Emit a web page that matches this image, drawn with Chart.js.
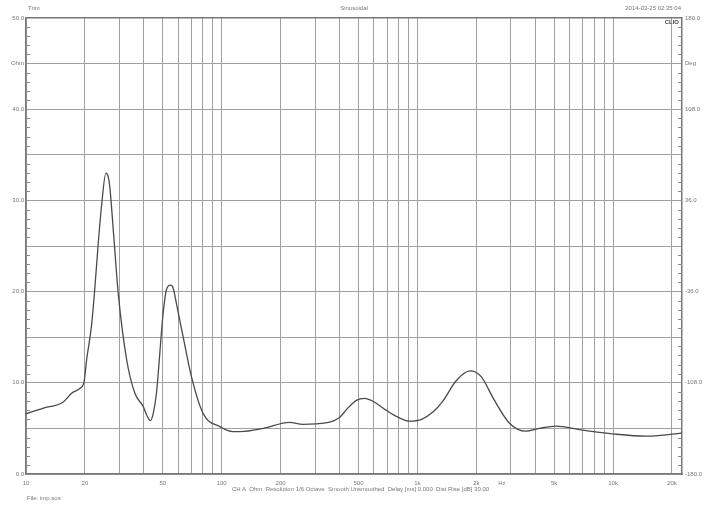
<!DOCTYPE html>
<html>
<head>
<meta charset="utf-8">
<script src="https://cdn.jsdelivr.net/npm/chart.js@4.4.1/dist/chart.umd.min.js"></script>
<style>
  body { margin: 0; background: #fff; }
  #wrap { position: relative; width: 708px; height: 510px; font-family: "Liberation Sans", Arial, sans-serif; color: #777; }
  .lbl { position: absolute; font-size: 6px; white-space: nowrap; line-height: 7px; }
</style>
</head>
<body>
<div id="wrap">
  <canvas id="imp" width="708" height="510"></canvas>
  <div class="lbl" style="left:28px;top:5px;">Trim</div>
  <div class="lbl" style="left:0;width:708px;text-align:center;top:5px;">Sinusoidal</div>
  <div class="lbl" style="right:27px;top:5px;">2014-03-25 02:35:04</div>
  <div class="lbl" style="right:29px;top:19px;font-weight:bold;color:#444;">CLIO</div>
  <div class="lbl" style="left:232px;top:486px;">CH A&nbsp;&nbsp;Ohm&nbsp;&nbsp;Resolution 1/6 Octave&nbsp;&nbsp;Smooth Unsmoothed&nbsp;&nbsp;Delay [ms] 0.000&nbsp;&nbsp;Dist Rise [dB] 30.00</div>
  <div class="lbl" style="left:27px;top:495px;">File: imp.sos</div>
</div>
<script>
// impedance curve (Hz, Ohm)
var freqs = [10, 12.2, 15.5, 17.1, 18.9, 19.8, 20.4, 21.6, 22.5, 23.4, 24.3, 25.6, 26.3, 26.8, 28.1, 29.6,
  32.7, 36, 39.7, 41.3, 43.2, 44.7, 46.4, 50.2, 52.2, 54.7, 56.5, 58.7, 63.5, 70, 80.3, 97.8, 114, 124,
  163, 222, 260, 340, 400, 440, 490, 537, 590, 680, 800, 910, 1050, 1200, 1350, 1575, 1856, 2113, 2472, 2947,
  3588, 4191, 5097, 6979, 9934, 14700, 21700, 22500];
var ohms = [6.6, 7.2, 7.9, 8.85, 9.4, 10.1, 12.5, 16.2, 20.5, 25.3, 29.3, 33.0, 32.6, 31.5, 26.0, 19.8,
  12.5, 8.85, 7.4, 6.5, 5.85, 6.65, 8.85, 17.6, 20.2, 20.7, 20.4, 18.7, 15.05, 10.7, 6.65, 5.2, 4.65, 4.65,
  5.0, 5.67, 5.45, 5.6, 6.2, 7.2, 8.1, 8.3, 8.0, 7.1, 6.2, 5.8, 6.0, 6.8, 8.0, 10.2, 11.3, 10.7, 8.1, 5.6,
  4.7, 5.0, 5.25, 4.8, 4.4, 4.15, 4.45, 4.5];

// x grid and labels
var xTicks = [10, 20, 30, 40, 50, 60, 70, 80, 90, 100, 200, 300, 400, 500, 600, 700, 800, 900,
  1000, 2000, 2700, 3000, 4000, 5000, 6000, 7000, 8000, 9000, 10000, 20000];
var xLabels = {10: '10', 20: '20', 50: '50', 100: '100', 200: '200', 500: '500', 1000: '1k',
  2000: '2k', 2700: 'Hz', 5000: '5k', 10000: '10k', 20000: '20k'};

// left axis labels (Ohm) and right axis labels (Deg)
var ohmLabels = {0: '0.0', 10: '10.0', 20: '20.0', 30: '30.0', 40: '40.0', 45: 'Ohm', 50: '50.0'};
var degTicks = [-180, -108, -36, 36, 108, 144, 180];
var degLabels = {'-180': '-180.0', '-108': '-108.0', '-36': '-36.0', '36': '36.0', '108': '108.0', '144': 'Deg', '180': '180.0'};

var points = freqs.map(function (f, i) { return {x: f, y: ohms[i]}; });

// little ticks inside the frame, one per Ohm
var innerTicks = {
  id: 'innerTicks',
  afterDraw: function (chart) {
    var ctx = chart.ctx, a = chart.chartArea, y = chart.scales.y;
    ctx.save();
    ctx.strokeStyle = '#888';
    ctx.lineWidth = 1;
    for (var v = 0; v <= 50; v++) {
      var py = Math.round(y.getPixelForValue(v)) + 0.5;
      var len = v % 5 === 0 ? 0 : 4;
      ctx.beginPath();
      ctx.moveTo(a.left, py); ctx.lineTo(a.left + len, py);
      ctx.moveTo(a.right, py); ctx.lineTo(a.right - len, py);
      ctx.stroke();
    }
    ctx.restore();
  }
};

var elem = document.getElementById('imp');
var impChart = new Chart(elem, {
  type: 'line',
  data: {
    datasets: [{
      data: points,
      borderColor: '#4a4a4a',
      borderWidth: 1.3,
      pointRadius: 0,
      cubicInterpolationMode: 'monotone',
      fill: false
    }]
  },
  options: {
    responsive: false,
    animation: false,
    layout: {padding: {top: 18, left: 0, right: 0, bottom: 0}},
    plugins: {legend: {display: false}, tooltip: {enabled: false}},
    scales: {
      x: {
        type: 'logarithmic',
        min: 10,
        max: 22500,
        afterBuildTicks: function (scale) {
          scale.ticks = xTicks.map(function (v) { return {value: v}; });
        },
        afterFit: function (scale) { scale.height = 36; },
        grid: {
          color: function (c) { return c.tick && c.tick.value === 2700 ? 'rgba(0,0,0,0)' : '#a0a0a0'; },
          lineWidth: 1,
          drawTicks: false
        },
        border: {color: '#777', width: 1.5},
        ticks: {
          autoSkip: false,
          maxRotation: 0,
          padding: 6,
          color: '#777',
          font: {size: 6, family: '"Liberation Sans", Arial'},
          callback: function (v) { return xLabels[v] || ''; }
        }
      },
      y: {
        min: 0,
        max: 50,
        afterBuildTicks: function (scale) {
          var t = [];
          for (var v = 0; v <= 50; v += 5) t.push({value: v});
          scale.ticks = t;
        },
        afterFit: function (scale) { scale.width = 26; },
        grid: {
          color: function (c) { return c.tick && c.tick.value === 50 ? '#777' : '#a0a0a0'; },
          lineWidth: function (c) { return c.tick && c.tick.value === 50 ? 1.5 : 1; },
          drawTicks: false
        },
        border: {color: '#777', width: 1.5},
        ticks: {
          autoSkip: false,
          padding: 2,
          color: '#777',
          font: {size: 6, family: '"Liberation Sans", Arial'},
          callback: function (v) { return ohmLabels[v] || ''; }
        }
      },
      y2: {
        position: 'right',
        min: -180,
        max: 180,
        afterBuildTicks: function (scale) {
          scale.ticks = degTicks.map(function (v) { return {value: v}; });
        },
        afterFit: function (scale) { scale.width = 26; },
        grid: {drawOnChartArea: false, drawTicks: false},
        border: {color: '#777', width: 1.5},
        ticks: {
          autoSkip: false,
          padding: 3,
          color: '#777',
          font: {size: 6, family: '"Liberation Sans", Arial'},
          callback: function (v) { return degLabels[String(v)] || ''; }
        }
      }
    }
  },
  plugins: [innerTicks]
});
</script>
</body>
</html>
